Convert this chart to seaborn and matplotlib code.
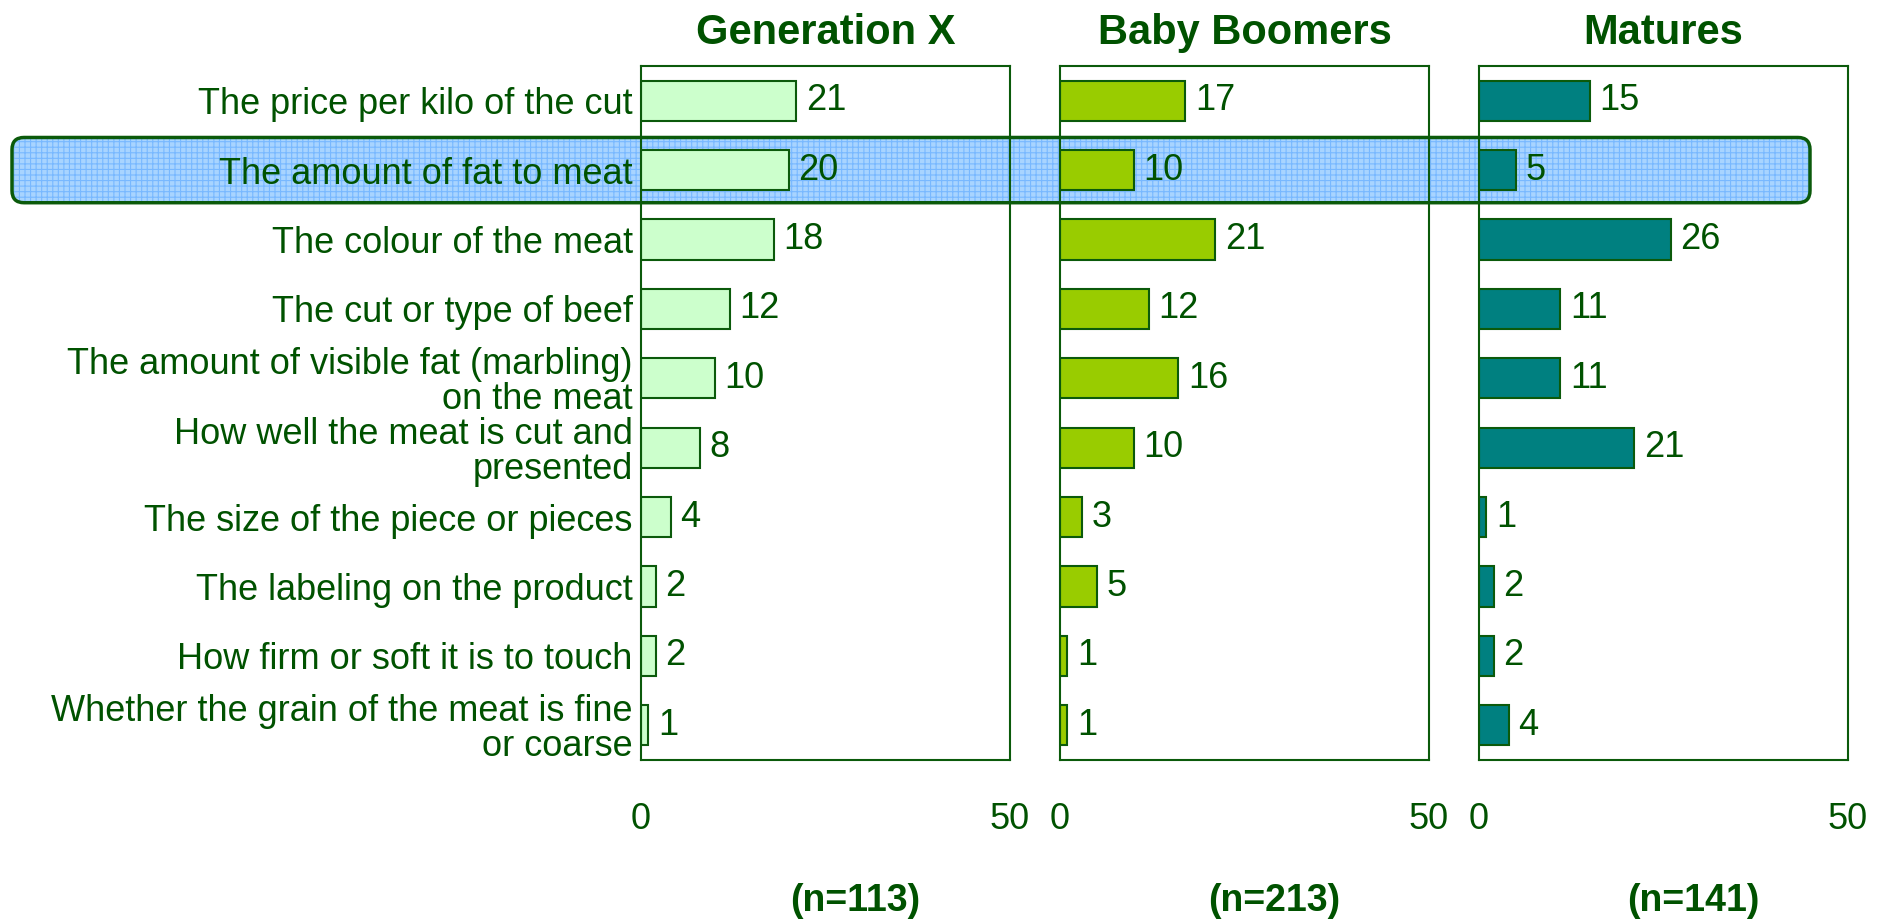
import numpy as np
import pandas as pd
import matplotlib.pyplot as plt
import matplotlib.patches as mpatches
import matplotlib.transforms as mtransforms
import seaborn as sns

# Data
attributes = [
    "The price per kilo of the cut",
    "The amount of fat to meat",
    "The colour of the meat",
    "The cut or type of beef",
    "The amount of visible fat (marbling)\non the meat",
    "How well the meat is cut and\npresented",
    "The size of the piece or pieces",
    "The labeling on the product",
    "How firm or soft it is to touch",
    "Whether the grain of the meat is fine\nor coarse",
]
gen_x = [21, 20, 18, 12, 10, 8, 4, 2, 2, 1]
baby_boomers = [17, 10, 21, 12, 16, 10, 3, 5, 1, 1]
matures = [15, 5, 26, 11, 11, 21, 1, 2, 2, 4]

groups = ["Generation X", "Baby Boomers", "Matures"]
sample_sizes = ["(n=113)", "(n=213)", "(n=141)"]
bar_colors = ["#ccffcc", "#99cc00", "#008080"]
highlight_row = 1

green = "#005200"
edge = "#0b5a0b"

sns.set_style("white")
plt.rcParams['font.family'] = ['Liberation Sans', 'DejaVu Sans']
plt.rcParams['hatch.linewidth'] = 0.8

W, H = 1885, 923
fig = plt.figure(figsize=(W / 100, H / 100), dpi=100)

ax_lefts = [641, 1060, 1479]
ax_w, ax_top, ax_bottom = 369, 66, 760

axes = []
for i, (grp, vals, col, n) in enumerate(zip(groups, [gen_x, baby_boomers, matures],
                                             bar_colors, sample_sizes)):
    ax = fig.add_axes([ax_lefts[i] / W, 1 - ax_bottom / H, ax_w / W,
                       (ax_bottom - ax_top) / H])
    ax.patch.set_alpha(0)
    df = pd.DataFrame({"attribute": attributes, "value": vals})
    sns.barplot(data=df, x="value", y="attribute", ax=ax, color=col,
                edgecolor=edge, linewidth=1.5, width=0.58, saturation=1)
    ax.bar_label(ax.containers[0], fmt="%d", padding=7, fontsize=26, color=green)
    ax.set_xlim(0, 50)
    ax.set_ylim(len(attributes) - 0.5, -0.5)
    ax.set_xticks([0, 50])
    ax.tick_params(axis='x', length=0, pad=30, labelsize=26, labelcolor=green)
    ax.tick_params(axis='y', length=0, pad=6, labelsize=26, labelcolor=green)
    if i > 0:
        ax.set_yticklabels([])
    else:
        for lbl in ax.get_yticklabels():
            lbl.set_linespacing(1.0)
    ax.set_xlabel("")
    ax.set_ylabel("")
    for s in ax.spines.values():
        s.set_visible(True)
        s.set_color(edge)
        s.set_linewidth(1.5)
    ax.set_title(grp, fontsize=30, fontweight='bold', color=green, pad=16)
    ax.text(0.58, -0.203, n, transform=ax.transAxes, ha='center', va='center',
            fontsize=27, fontweight='bold', color=green)
    axes.append(ax)

# highlight box around one attribute row, spanning all panels
y0 = axes[0].transData.transform((0, highlight_row + 0.47))[1]
y1 = axes[0].transData.transform((0, highlight_row - 0.47))[1]
x0, x1 = 12, 1810
ident = mtransforms.IdentityTransform()
box_fill = mpatches.FancyBboxPatch((x0, y0), x1 - x0, y1 - y0,
                                   boxstyle="round,pad=0,rounding_size=12",
                                   transform=ident, facecolor="#a8d4ff",
                                   edgecolor="#78b8ff", hatch="+++", linewidth=0,
                                   zorder=-5)
box_edge = mpatches.FancyBboxPatch((x0, y0), x1 - x0, y1 - y0,
                                   boxstyle="round,pad=0,rounding_size=12",
                                   transform=ident, facecolor="none",
                                   edgecolor=edge, linewidth=2.5, zorder=-4)
fig.patches.extend([box_fill, box_edge])

fig.savefig("out.png", dpi=100)
